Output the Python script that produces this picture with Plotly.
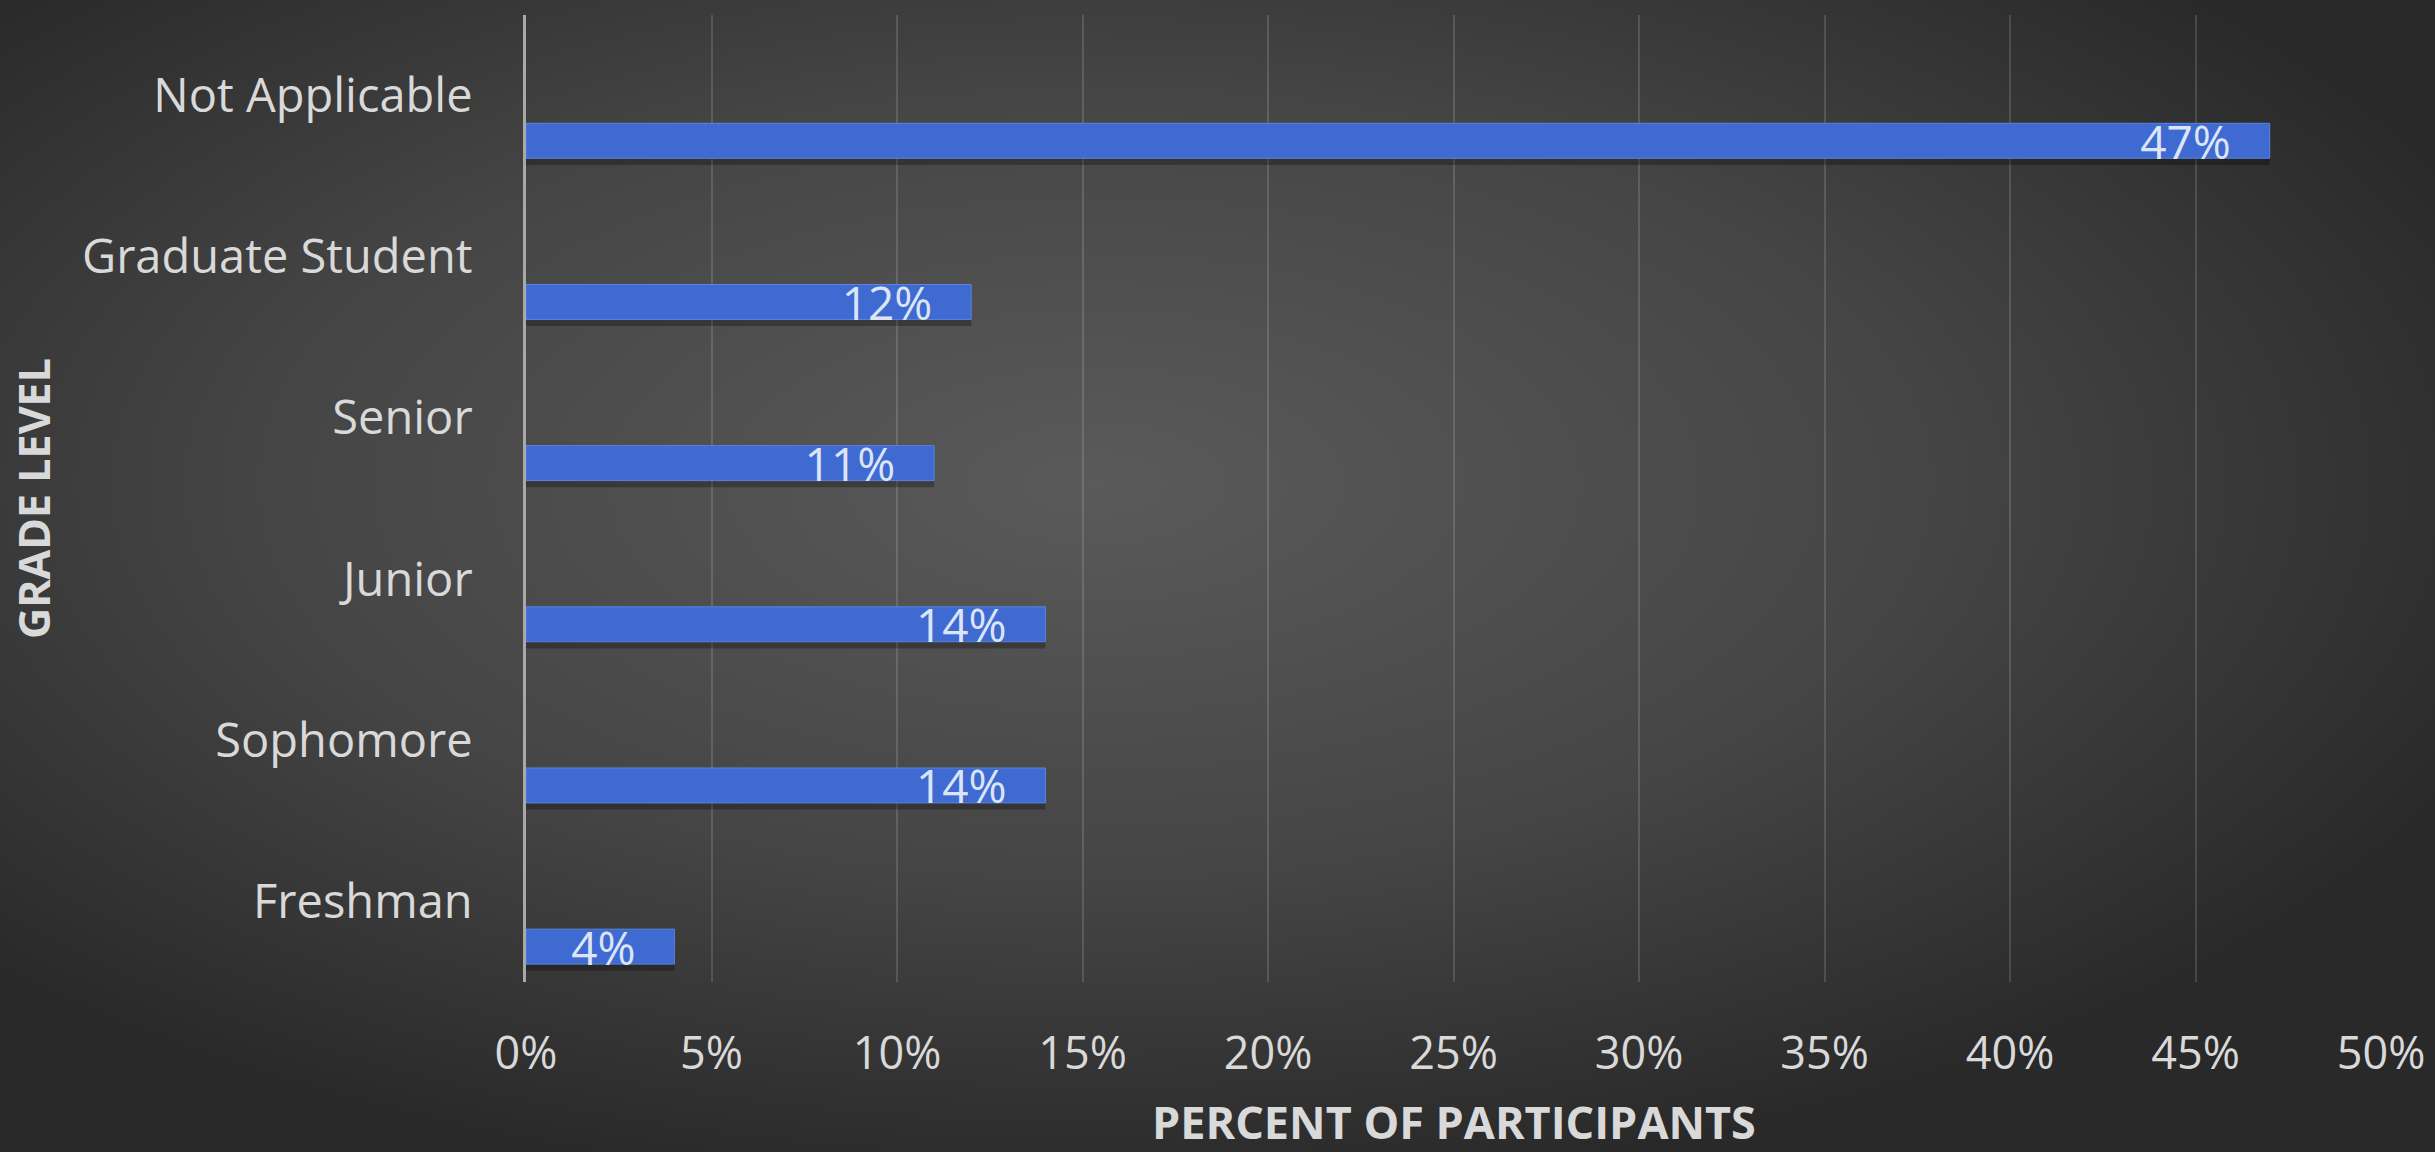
import base64
import plotly.graph_objects as go

# ---- data ----
categories = ["Freshman", "Sophomore", "Junior", "Senior", "Graduate Student", "Not Applicable"]
percent_values = [0.04, 0.14, 0.14, 0.11, 0.12, 0.47]
x_tick_values = [0, 0.05, 0.10, 0.15, 0.20, 0.25, 0.30, 0.35, 0.40, 0.45, 0.50]
x_title = "PERCENT OF PARTICIPANTS"
y_title = "GRADE LEVEL"

# ---- layout geometry ----
W, H = 2435, 1152
ML, MR, MT, MB = 526, 54, 15, 170
PW, PH = W - ML - MR, H - MT - MB

FONT = "'Open Sans', 'Noto Sans', sans-serif"
TEXT_COLOR = "#d9d9d9"

# radial gradient background as an SVG data URI
svg = (
    f"<svg xmlns='http://www.w3.org/2000/svg' width='{W}' height='{H}' preserveAspectRatio='none'>"
    "<defs><radialGradient id='g' cx='0.45' cy='0.42' r='0.62'>"
    "<stop offset='0' stop-color='#5a5a5a'/>"
    "<stop offset='0.55' stop-color='#454545'/>"
    "<stop offset='1' stop-color='#292929'/>"
    "</radialGradient></defs>"
    f"<rect width='{W}' height='{H}' fill='url(#g)'/></svg>"
)
bg_src = "data:image/svg+xml;base64," + base64.b64encode(svg.encode()).decode()

fig = go.Figure()

# soft shadow under bars
fig.add_trace(go.Bar(
    y=categories, x=percent_values, orientation="h",
    offset=-0.43, width=0.23,
    marker=dict(color="rgba(0,0,0,0.28)", line=dict(width=0)),
    hoverinfo="skip", showlegend=False,
))

# main bars
fig.add_trace(go.Bar(
    y=categories, x=percent_values, orientation="h",
    offset=-0.389, width=0.217,
    marker=dict(color="#3e6ad2", line=dict(color="#5a84de", width=1)),
    texttemplate="%{x:.0%}\u00a0\u00a0\u00a0",
    textposition="inside", insidetextanchor="end",
    textfont=dict(family=FONT, size=46, color="#dbe5f6"),
    cliponaxis=False,
    showlegend=False,
))

fig.update_layout(
    width=W, height=H,
    margin=dict(l=ML, r=MR, t=MT, b=MB, pad=0),
    paper_bgcolor="#383838",
    plot_bgcolor="rgba(0,0,0,0)",
    barmode="overlay",
    uniformtext=dict(minsize=46, mode="show"),
    font=dict(family=FONT, size=44, color=TEXT_COLOR),
    images=[dict(
        source=bg_src, xref="paper", yref="paper",
        x=-ML / PW, y=(PH + MT) / PH,
        sizex=W / PW, sizey=H / PH,
        xanchor="left", yanchor="top",
        sizing="stretch", layer="below",
    )],
    annotations=[dict(
        text=x_title, xref="paper", yref="paper",
        x=0.5, y=-(1121 - (MT + PH)) / PH,
        xanchor="center", yanchor="middle", showarrow=False,
        font=dict(family=FONT, size=45, color=TEXT_COLOR, weight="bold"),
    )],
    xaxis=dict(
        range=[0, 0.5], tickvals=x_tick_values, tickformat=".0%",
        showgrid=True, gridcolor="rgba(255,255,255,0.14)", gridwidth=2,
        zeroline=False, showline=False, ticks="",
        ticklabelstandoff=41,
        tickfont=dict(family=FONT, size=45, color=TEXT_COLOR),
        automargin=False, fixedrange=True,
    ),
    yaxis=dict(
        type="category", categoryorder="array", categoryarray=categories,
        range=[-0.5, len(categories) - 0.5],
        showgrid=False, zeroline=False,
        showline=True, linecolor="#a8a8a8", linewidth=3,
        ticks="", ticklabelstandoff=41,
        tickfont=dict(family=FONT, size=47, color=TEXT_COLOR),
        title=dict(text=y_title, standoff=18,
                   font=dict(family=FONT, size=43, color=TEXT_COLOR, weight="bold")),
        automargin=False, fixedrange=True,
    ),
)

fig.write_html(
    "out.html",
    config={"displayModeBar": False},
    post_script="document.body.style.margin='0';document.body.style.overflow='hidden';"
                "document.body.style.background='#2a2a2a';",
)
